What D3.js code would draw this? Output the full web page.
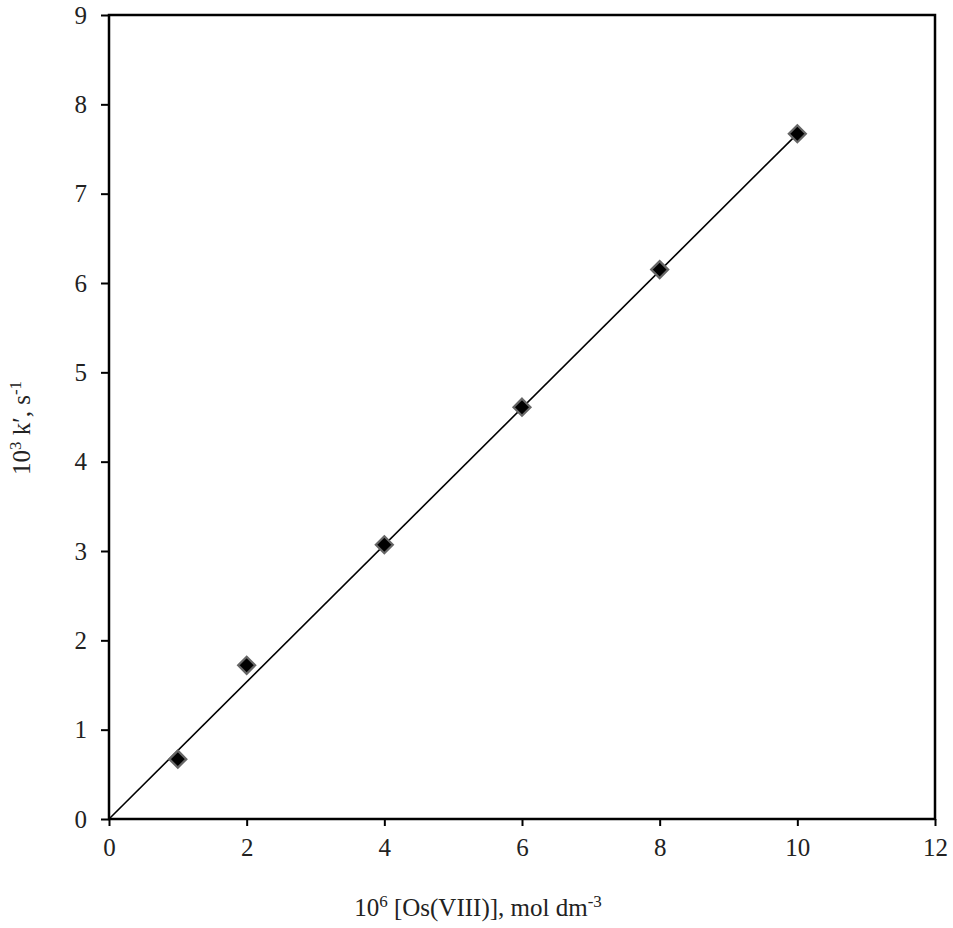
<!DOCTYPE html>
<html>
<head>
<meta charset="utf-8">
<script src="https://cdn.jsdelivr.net/npm/d3@7"></script>
<style>
  body { margin: 0; background: #fff; }
  svg { display: block; }
</style>
</head>
<body>
<svg id="chart"></svg>
<script>
// data
var osConc = [1, 2, 4, 6, 8, 10]          // 10^6 [Os(VIII)], mol dm-3
var kObs = [0.67, 1.72, 3.07, 4.61, 6.15, 7.67]  // 10^3 k', s-1
var fitX = [0, 10]
var fitY = [0, 7.67]
var xTicks = [0, 2, 4, 6, 8, 10, 12]
var yTicks = [0, 1, 2, 3, 4, 5, 6, 7, 8, 9]

var width = 953, height = 928
var margin = {top: 15, right: 18, bottom: 109, left: 109}
var serif = "'Liberation Serif', 'Times New Roman', Times, serif"

var svg = d3.select("#chart")
  .attr("width", width)
  .attr("height", height)
  .attr("font-family", serif)

var x = d3.scaleLinear()
  .domain([0, 12])
  .range([margin.left, width - margin.right])

var y = d3.scaleLinear()
  .domain([0, 9])
  .range([height - margin.bottom, margin.top])

// axes
svg.append("g")
  .attr("transform", `translate(0,${height - margin.bottom})`)
  .call(d3.axisBottom(x).tickValues(xTicks).tickSize(7).tickSizeOuter(0).tickPadding(12))
  .attr("font-family", serif)
  .attr("font-size", 25)
  .call(g => g.select(".domain").remove())
  .call(g => g.selectAll(".tick line").attr("stroke", "#000").attr("stroke-width", 2))
  .call(g => g.selectAll(".tick text").attr("fill", "#222"))

svg.append("g")
  .attr("transform", `translate(${margin.left},0)`)
  .call(d3.axisLeft(y).tickValues(yTicks).tickSize(8).tickSizeOuter(0).tickPadding(14))
  .attr("font-family", serif)
  .attr("font-size", 25)
  .call(g => g.select(".domain").remove())
  .call(g => g.selectAll(".tick line").attr("stroke", "#000").attr("stroke-width", 2))
  .call(g => g.selectAll(".tick text").attr("fill", "#222").attr("dy", "0.33em"))

// frame
svg.append("rect")
  .attr("x", x(0))
  .attr("y", y(9))
  .attr("width", x(12) - x(0))
  .attr("height", y(0) - y(9))
  .attr("fill", "none")
  .attr("stroke", "#000")
  .attr("stroke-width", 2.5)

// fitted line
var line = d3.line()
  .x(d => x(d[0]))
  .y(d => y(d[1]))

svg.append("path")
  .datum(d3.zip(fitX, fitY))
  .attr("d", line)
  .attr("fill", "none")
  .attr("stroke", "#000")
  .attr("stroke-width", 1.6)

// diamond markers
svg.append("g")
  .selectAll("path")
  .data(d3.zip(osConc, kObs))
  .join("path")
  .attr("transform", d => `translate(${x(d[0])},${y(d[1])})`)
  .attr("d", "M0,-8.5L8.5,0L0,8.5L-8.5,0Z")
  .attr("fill", "#000")
  .attr("stroke", "#666")
  .attr("stroke-width", 2.2)

// axis titles
var xTitle = svg.append("text")
  .attr("x", 478)
  .attr("y", 916)
  .attr("text-anchor", "middle")
  .attr("font-size", 25)
  .attr("fill", "#222")
xTitle.append("tspan").text("10")
xTitle.append("tspan").attr("font-size", 17).attr("dy", -9).text("6")
xTitle.append("tspan").attr("dy", 9).text(" [Os(VIII)], mol dm")
xTitle.append("tspan").attr("font-size", 17).attr("dy", -9).text("-3")

var yTitle = svg.append("text")
  .attr("transform", "translate(30,428) rotate(-90)")
  .attr("text-anchor", "middle")
  .attr("font-size", 25)
  .attr("fill", "#222")
yTitle.append("tspan").text("10")
yTitle.append("tspan").attr("font-size", 17).attr("dy", -9).text("3")
yTitle.append("tspan").attr("dy", 9).text(" k\u2032, s")
yTitle.append("tspan").attr("font-size", 17).attr("dy", -9).text("-1")
</script>
</body>
</html>
